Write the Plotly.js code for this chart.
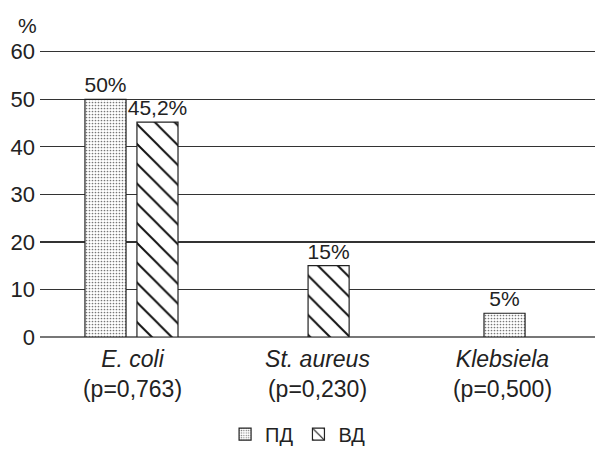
<!DOCTYPE html>
<html>
<head>
<meta charset="utf-8">
<script src="https://cdn.plot.ly/plotly-3.0.1.min.js"></script>
<style>html,body{margin:0;padding:0;background:#fff;}#chart{width:595px;height:449px;}</style>
</head>
<body>
<div id="chart"></div>
<script>
const categories = ["E. coli", "St. aureus", "Klebsiela"];
const pValues = ["(p=0,763)", "(p=0,230)", "(p=0,500)"];
const seriesNames = ["ПД", "ВД"];
const pdValues = [50, null, 5];
const vdValues = [45.2, 15, null];
const pdLabels = ["50%", "", "5%"];
const vdLabels = ["45,2%", "15%", ""];
const yTicks = [0, 10, 20, 30, 40, 50, 60];

const FONT = '"Liberation Sans", Arial, sans-serif';
const tickText = categories.map((c, i) => '<i>' + c + '</i><br>' + pValues[i]);
const xIdx = categories.map((c, i) => i);

const traces = [
  {
    type: 'bar', name: seriesNames[0], x: xIdx, y: pdValues,
    text: pdLabels, textposition: 'outside', cliponaxis: false, constraintext: 'none',
    textfont: {family: FONT, size: 21, color: '#222'},
    width: 0.222, offset: [-0.257, 0, -0.1],
    marker: {color: '#fff', line: {color: '#222', width: 1.2},
      pattern: {shape: '.', size: 3, solidity: 0.25, fgcolor: '#777', bgcolor: '#fff'}},
    hoverinfo: 'none'
  },
  {
    type: 'bar', name: seriesNames[1], x: xIdx, y: vdValues,
    text: vdLabels, textposition: 'outside', cliponaxis: false, constraintext: 'none',
    textfont: {family: FONT, size: 21, color: '#222'},
    width: 0.222, offset: [0.024, -0.051, 0],
    marker: {color: '#fff', line: {color: '#222', width: 1.2},
      pattern: {shape: '\\', size: 14, solidity: 0.14, fgcolor: '#111', bgcolor: '#fff'}},
    hoverinfo: 'none'
  }
];

const layout = {
  width: 595, height: 449,
  margin: {l: 40, r: 0, t: 47, b: 112, autoexpand: false},
  paper_bgcolor: '#fff', plot_bgcolor: '#fff',
  barmode: 'overlay',
  font: {family: FONT, size: 20, color: '#222'},
  showlegend: true,
  legend: {orientation: 'h', x: 0.465, xanchor: 'center', y: -0.335, yanchor: 'middle',
    font: {family: FONT, size: 20, color: '#222'}, traceorder: 'normal', itemwidth: 30},
  xaxis: {
    range: [-0.5, 2.5], tickvals: xIdx, ticktext: tickText, automargin: false,
    showgrid: false, zeroline: false, showline: false, ticks: '', ticklabelstandoff: 6,
    tickfont: {family: FONT, size: 23, color: '#222'}, fixedrange: true
  },
  yaxis: {
    range: [0, 61], tickvals: yTicks, ticktext: yTicks.map(String), automargin: false,
    showgrid: true, gridcolor: '#333', gridwidth: 1.2,
    zeroline: true, zerolinecolor: '#777', zerolinewidth: 1.5,
    showline: false, ticks: '', ticklabelstandoff: 4,
    tickfont: {family: FONT, size: 22, color: '#222'}, fixedrange: true
  },
  annotations: [
    {text: '%', xref: 'paper', yref: 'paper', x: -0.022, y: 1.075, xanchor: 'center', yanchor: 'middle',
     showarrow: false, font: {family: FONT, size: 21, color: '#222'}}
  ]
};

Plotly.newPlot('chart', traces, layout, {displayModeBar: false, staticPlot: true});
</script>
</body>
</html>
